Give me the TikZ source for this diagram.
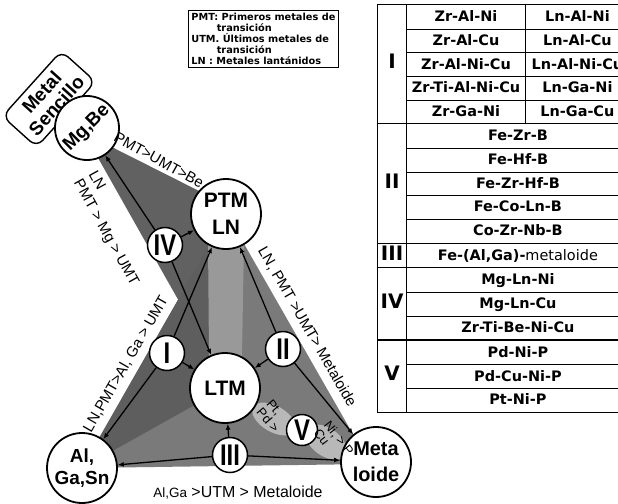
\documentclass[tikz,border=0pt]{standalone}
\usepackage{fontspec}
\setmainfont{Liberation Sans}
\newfontfamily\legfont{DejaVu Sans}
\usepackage{array,multirow}
\usetikzlibrary{arrows.meta}

\newcolumntype{C}[1]{>{\centering\arraybackslash}p{#1}}
\newcommand{\romnum}[1]{\scalebox{0.8}[1]{#1}}
\newcommand{\romtab}[1]{{\fontsize{20}{20}\selectfont #1}}

\begin{document}
\begin{tikzpicture}[
  x=10bp, y=-10bp,
  every node/.style={font=\fontsize{14}{15}\selectfont},
  elem/.style={draw, circle, line width=1.8bp, fill=white, minimum size=70bp,
               inner sep=0pt, align=center, font=\fontsize{21}{27}\selectfont\bfseries},
  grp/.style={draw, circle, line width=1.5bp, fill=white, minimum size=35bp,
              inner sep=0pt, font=\fontsize{30}{30}\selectfont\bfseries},
  link/.style={line width=1.3bp, -{Latex[length=6bp,width=5bp]}},
  edgelbl/.style={font=\fontsize{15}{17}\selectfont, inner sep=1bp},
  vlbl/.style={font=\fontsize{13}{13}\selectfont, inner sep=0pt, align=left},
]
\useasboundingbox (0,0) rectangle (61.8,50.4);

%% -- shaded zones ------------------------------------------------------------
\fill[black!52] (8.2,46.8) -- (22.7,21.4) -- (37.0,46.4) -- cycle;
\fill[black!62] (8.4,13.3) -- (21.5,19.9) -- (22.8,38.8) -- cycle;
\fill[black!63] (8.2,46.8) -- (22.7,21.4) -- (22.5,38.8) -- cycle;
\fill[black!40] (20.8,24.0) -- (24.4,24.0) -- (24.2,35.6) -- (20.9,35.6) -- cycle;

%% cloud round V
\fill[black!28, rotate around={-30:(27.4,41.9)}] (27.4,41.9) ellipse [x radius=2.4, y radius=1.3];
\fill[black!28, rotate around={-35:(32.6,44.2)}] (32.6,44.2) ellipse [x radius=2.3, y radius=1.4];

%% -- legend ------------------------------------------------------------------
\node[draw, line width=0.8bp, anchor=north west, align=left, inner sep=3bp,
      font=\legfont\fontsize{9.8}{11}\selectfont\bfseries] (legend) at (18.8,1.0)
  {PMT: Primeros metales de\\\hspace*{2.6em}transición\\
   UTM. Últimos metales de\\\hspace*{2.6em}transición\\
   LN : Metales lantánidos};

%% -- alloy table -------------------------------------------------------------
\node[anchor=north west, inner sep=0pt, font=\legfont\fontsize{14.5}{18}\selectfont\bfseries]
  (tbl) at (37.7,0.4) {%
  \setlength{\tabcolsep}{0pt}\renewcommand{\arraystretch}{1.32}%
  \setlength{\arrayrulewidth}{0.9pt}%
  \begin{tabular}{|C{28bp}|C{118bp}|C{103bp}|}
  \hline
  \multirow{5}{*}{\romtab{I}} & Zr-Al-Ni & Ln-Al-Ni \\ \cline{2-3}
   & Zr-Al-Cu & Ln-Al-Cu \\ \cline{2-3}
   & Zr-Al-Ni-Cu & Ln-Al-Ni-Cu \\ \cline{2-3}
   & Zr-Ti-Al-Ni-Cu & Ln-Ga-Ni \\ \cline{2-3}
   & Zr-Ga-Ni & Ln-Ga-Cu \\ \hline
  \multirow{5}{*}{\romtab{II}} & \multicolumn{2}{c|}{Fe-Zr-B} \\ \cline{2-3}
   & \multicolumn{2}{c|}{Fe-Hf-B} \\ \cline{2-3}
   & \multicolumn{2}{c|}{Fe-Zr-Hf-B} \\ \cline{2-3}
   & \multicolumn{2}{c|}{Fe-Co-Ln-B} \\ \cline{2-3}
   & \multicolumn{2}{c|}{Co-Zr-Nb-B} \\ \hline
  \romtab{III} & \multicolumn{2}{c|}{Fe-(Al,Ga)-\mdseries metaloide} \\ \hline
  \multirow{3}{*}{\romtab{IV}} & \multicolumn{2}{c|}{Mg-Ln-Ni} \\ \cline{2-3}
   & \multicolumn{2}{c|}{Mg-Ln-Cu} \\ \cline{2-3}
   & \multicolumn{2}{c|}{Zr-Ti-Be-Ni-Cu} \\ \noalign{\hrule height 1.6pt}
  \multirow{3}{*}{\romtab{V}} & \multicolumn{2}{c|}{Pd-Ni-P} \\ \cline{2-3}
   & \multicolumn{2}{c|}{Pd-Cu-Ni-P} \\ \cline{2-3}
   & \multicolumn{2}{c|}{Pt-Ni-P} \\ \hline
  \end{tabular}};

%% -- element circles ---------------------------------------------------------
\node[elem] (ptm) at (22.6,21.4) {PTM\\LN};
\node[elem] (ltm) at (22.5,38.8) {LTM};
\node[elem, font=\fontsize{19}{22}\selectfont\bfseries] (al) at (8.2,46.8) {Al,\\Ga,Sn};
\node[elem, font=\fontsize{20}{26}\selectfont\bfseries] (met) at (37.6,46.2) {Meta\\loide};

\node[draw, line width=1.4bp, fill=white, rounded corners=9bp, rotate=48,
      minimum width=88bp, minimum height=46bp, inner sep=1bp, align=center,
      font=\fontsize{19}{20}\selectfont\bfseries] (sencillo) at (4.9,9.9) {Metal\\Sencillo};
\node[elem, minimum size=64bp, rotate=45, font=\fontsize{19}{20}\selectfont\bfseries]
  (mg) at (8.7,12.8) {Mg,Be};

%% -- group circles -----------------------------------------------------------
\node[grp] (giv) at (16.5,24.5) {\romnum{IV}};
\node[grp] (gi) at (16.7,35.3) {\romnum{I}};
\node[grp] (gii) at (28.3,34.9) {\romnum{II}};
\node[grp] (giii) at (23.0,45.5) {\romnum{III}};
\node[grp, minimum size=31bp] (gv) at (30.2,43.0) {\romnum{V}};

%% -- links -------------------------------------------------------------------
\draw[link] (giv) -- (mg);
\draw[link] (giv) -- (ptm);
\draw[link] (giv) -- (ltm);
\draw[link] (gi) -- (ptm);
\draw[link] (gi) -- (ltm);
\draw[link] (gi) -- (al);
\draw[link] (gii) -- (ptm);
\draw[link] (gii) -- (ltm);
\draw[link] (gii) -- (met);
\draw[link] (giii) -- (ltm);
\draw[link] (giii) -- (al);
\draw[link] (giii) -- (met);

%% -- edge labels -------------------------------------------------------------
\node[edgelbl, rotate=-29] (lblbe) at (15.9,16.0) {PMT>UMT>Be};
\node[edgelbl, rotate=-61, align=left] (lblmg) at (11.3,22.9) {LN\\PMT > Mg > UMT};
\node[edgelbl, rotate=60] (lblal) at (12.6,36.4) {LN,PMT>Al, Ga > UMT};
\node[edgelbl, rotate=-60] (lblmet) at (30.7,32.7) {LN, PMT >UMT> Metaloide};
\node[edgelbl, font=\fontsize{16}{17}\selectfont] (lblbase) at (23.8,49.3)
  {{\fontsize{13.5}{15}\selectfont Al,Ga} >UTM > Metaloide};

%% V labels
\node[vlbl, rotate=-50] (lblpt) at (27.3,41.6) {Pt,\\Pd >};
\node[vlbl, rotate=-52] (lblni) at (33.4,44.2) {Ni, > P\\Cu};

\end{tikzpicture}
\end{document}
